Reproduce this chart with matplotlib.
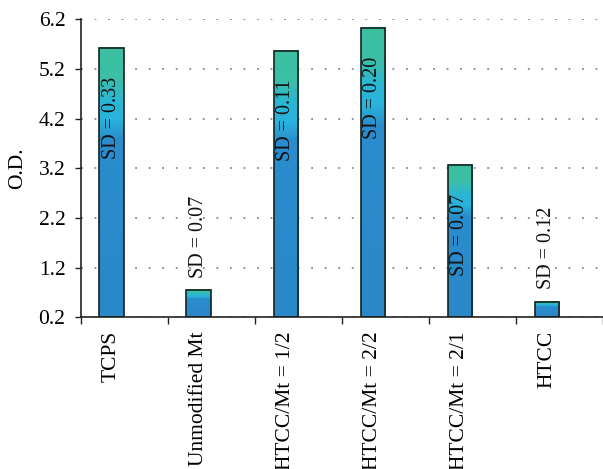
import numpy as np
from matplotlib import pyplot as plt
from matplotlib.colors import LinearSegmentedColormap

plt.rcParams['font.family'] = ['Liberation Serif', 'DejaVu Serif']

groups = ["TCPS", "Unmodified Mt", "HTCC/Mt = 1/2", "HTCC/Mt = 2/2", "HTCC/Mt = 2/1", "HTCC"]
od = [5.62, 0.75, 5.57, 6.03, 3.27, 0.51]
sd_text = ["SD = 0.33", "SD = 0.07", "SD = 0.11", "SD = 0.20", "SD = 0.07", "SD = 0.12"]
yticks = [0.2, 1.2, 2.2, 3.2, 4.2, 5.2, 6.2]

# fill runs green at the top of each bar, through cyan, into blue
fill = LinearSegmentedColormap.from_list("fill", [
    (0.0, "#3bbf9f"), (0.11, "#3cbfa6"), (0.2, "#2ab6d6"),
    (0.27, "#29b2dc"), (0.34, "#2b8dcd"), (1.0, "#2a87c8")])

fig = plt.figure(figsize=(6.03, 4.69), dpi=100)
ax = fig.add_axes([80.7/603, 1 - 317.3/469, 1 - 80.7/603, (317.3 - 19.3)/469])

x = np.arange(len(groups)) - 0.145
w = 0.28
ramp = np.linspace(0, 1, 256).reshape(-1, 1)
for xi, v, s in zip(x, od, sd_text):
    ax.imshow(ramp, cmap=fill, extent=[xi - w/2, xi + w/2, 0.2, v],
              origin="upper", aspect="auto", zorder=2, interpolation="bilinear")
    ax.bar(xi, v - 0.2, w, bottom=0.2, facecolor="none", edgecolor="#15231f",
           linewidth=1.2, zorder=3)
    if v > 2:
        ax.text(xi, v - 0.58, s, rotation=90, ha="center", va="top",
                fontsize=14.5, color="#111111", zorder=4)
    else:
        ax.text(xi, v + 0.25, s, rotation=90, ha="center", va="bottom",
                fontsize=14.5, color="#111111", zorder=4)

ax.set_xlim(-0.5, 5.42)
ax.set_ylim(0.2, 6.2)

ax.set_yticks(yticks)
ax.set_yticklabels([f"{t:.1f}" for t in yticks])
ax.set_xticks(np.arange(len(groups) + 1) - 0.5)
ax.set_xticklabels([])
ax.set_xticks(x, minor=True)
ax.set_xticklabels(groups, minor=True, rotation=90, va="top", ha="center")

ax.tick_params(axis="y", length=4, width=1, pad=7, labelsize=15.5, color="#222222")
ax.tick_params(axis="x", which="major", length=5, width=1, color="#222222")
ax.tick_params(axis="x", which="minor", length=0, pad=10, labelsize=15.5)

ax.grid(axis="y", color="#888888", linewidth=1.3, linestyle=(0, (1, 6.5)), zorder=1)
ax.set_axisbelow(True)
for side in ("top", "right"):
    ax.spines[side].set_visible(False)
for side in ("left", "bottom"):
    ax.spines[side].set_linewidth(1.2)
    ax.spines[side].set_color("#222222")

fig.text(18/603, 1 - 168/469, "O.D.", rotation=90, ha="center", va="center", fontsize=15.5)

fig.savefig("out.png", dpi=100)
